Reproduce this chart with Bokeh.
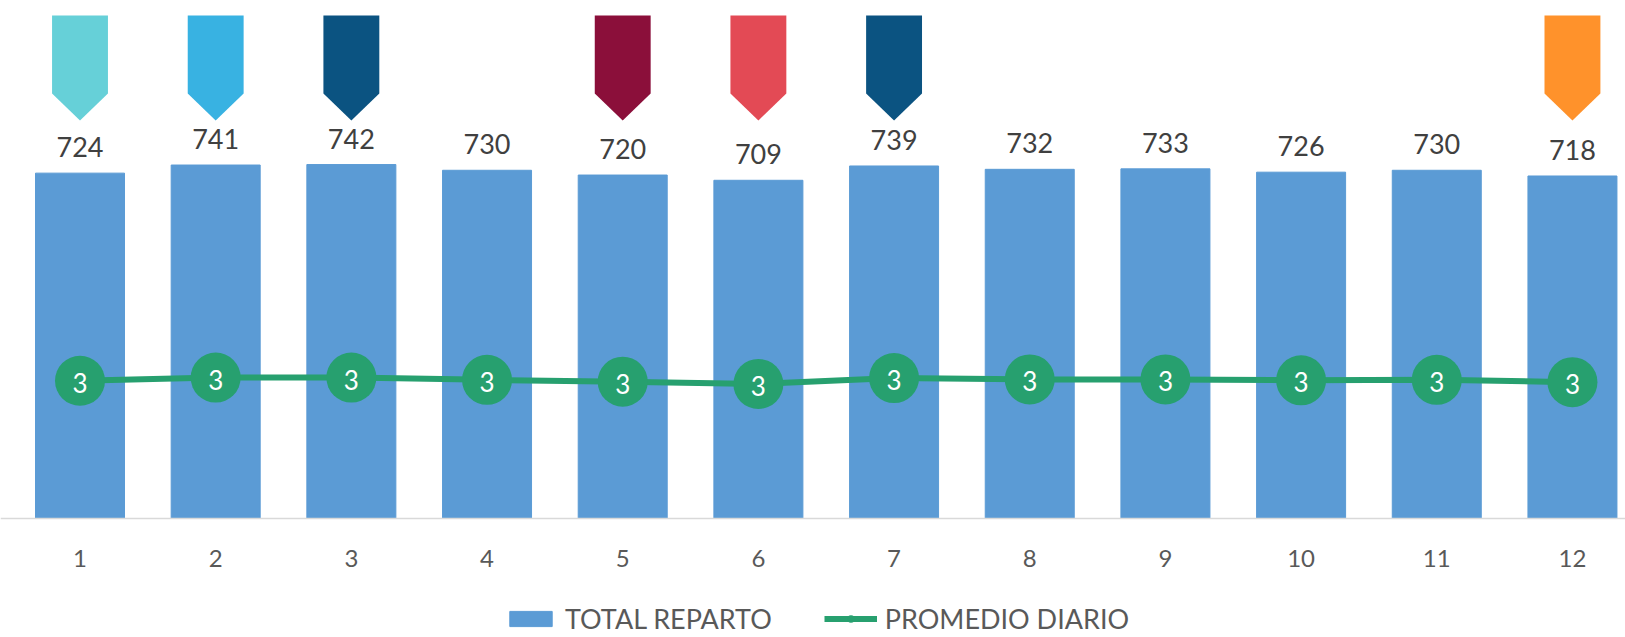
from bokeh.plotting import figure
from bokeh.models import Range1d, FixedTicker, Span, Legend, LegendItem, ColumnDataSource
from bokeh.core.properties import value
from bokeh.embed import file_html
from bokeh.resources import INLINE

# ---- data ----
months = [1, 2, 3, 4, 5, 6, 7, 8, 9, 10, 11, 12]
tick_labels = ["1", "2", "3", "4", "5", "6", "7", "8", "9", "10", "11", "12"]
total_reparto = [724, 741, 742, 730, 720, 709, 739, 732, 733, 726, 730, 718]
promedio_diario = [3.02, 3.09, 3.09, 3.04, 3.00, 2.95, 3.08, 3.05, 3.05, 3.03, 3.04, 2.99]
flag_months = [1, 2, 3, 5, 6, 7, 12]
flag_colors = ["#66D0D8", "#38B2E2", "#0B5381", "#8B0F3A", "#E34A55", "#0B5381", "#FF922B"]

BAR = "#5B9BD5"
GREEN = "#27A06F"
TXT = "#404040"
AX = "#595959"

src = ColumnDataSource(dict(
    x=months,
    total=total_reparto,
    total_lbl=[str(v) for v in total_reparto],
    avg=promedio_diario,
    avg_lbl=[str(int(round(v))) for v in promedio_diario],
))

p = figure(width=1625, height=637,
           x_range=Range1d(0.414, 12.391), y_range=Range1d(-249.5, 1085.9),
           y_axis_location=None, output_backend="svg", toolbar_location=None,
           min_border_left=0, min_border_right=0, min_border_top=0, min_border_bottom=0)
p.extra_y_ranges = {"avg": Range1d(-2.610, 11.359)}
p.outline_line_color = None
p.grid.visible = False
p.background_fill_color = "white"

# baseline
p.add_layout(Span(location=0, dimension="width", line_color="#D9D9D9", line_width=1.5))

# bars
bars = p.vbar(x="x", top="total", bottom=0, width=0.656, color=BAR, source=src)
p.text(x="x", y="total", text="total_lbl", source=src, y_offset=-26,
       text_align="center", text_baseline="middle", text_color=TXT,
       text_font=value("Lato"), text_font_size="27px")

# flags
hw = 0.206
ys_flag = [1054.5, 1054.5, 891.0, 834.4, 891.0]
xs = []
ys = []
for m in flag_months:
    xs.append([m - hw, m + hw, m + hw, m, m - hw])
    ys.append(ys_flag)
p.patches(xs, ys, fill_color=flag_colors, line_color=None)

# promedio line
line = p.line(x="x", y="avg", source=src, y_range_name="avg", line_color=GREEN, line_width=6)
circ = p.scatter(x="x", y="avg", source=src, y_range_name="avg", size=50,
                 fill_color=GREEN, line_color=None)
p.text(x="x", y="avg", text="avg_lbl", source=src, y_range_name="avg",
       text_align="center", text_baseline="middle", text_color="white",
       text_font=value("Lato"), text_font_size="26px", y_offset=2)

# x axis drawn at y = 0
ax = p.xaxis[0]
ax.fixed_location = 0
ax.ticker = FixedTicker(ticks=months)
ax.major_label_overrides = {m: l for m, l in zip(months, tick_labels)}
ax.axis_line_color = None
ax.major_tick_line_color = None
ax.minor_tick_line_color = None
ax.major_label_standoff = 26
ax.major_label_text_font = "Lato"
ax.major_label_text_font_size = "24px"
ax.major_label_text_color = AX

legend = Legend(items=[LegendItem(label="TOTAL REPARTO", renderers=[bars]),
                       LegendItem(label="PROMEDIO DIARIO", renderers=[line, circ])],
                location=(504, 2), orientation="horizontal",
                spacing=52, glyph_width=53, glyph_height=19, label_standoff=8,
                padding=0, margin=0,
                label_text_font="Lato", label_text_font_size="27px",
                label_text_color=AX, background_fill_alpha=0, border_line_alpha=0)
p.add_layout(legend, "center")

open("out.html", "w").write(file_html(p, INLINE))
